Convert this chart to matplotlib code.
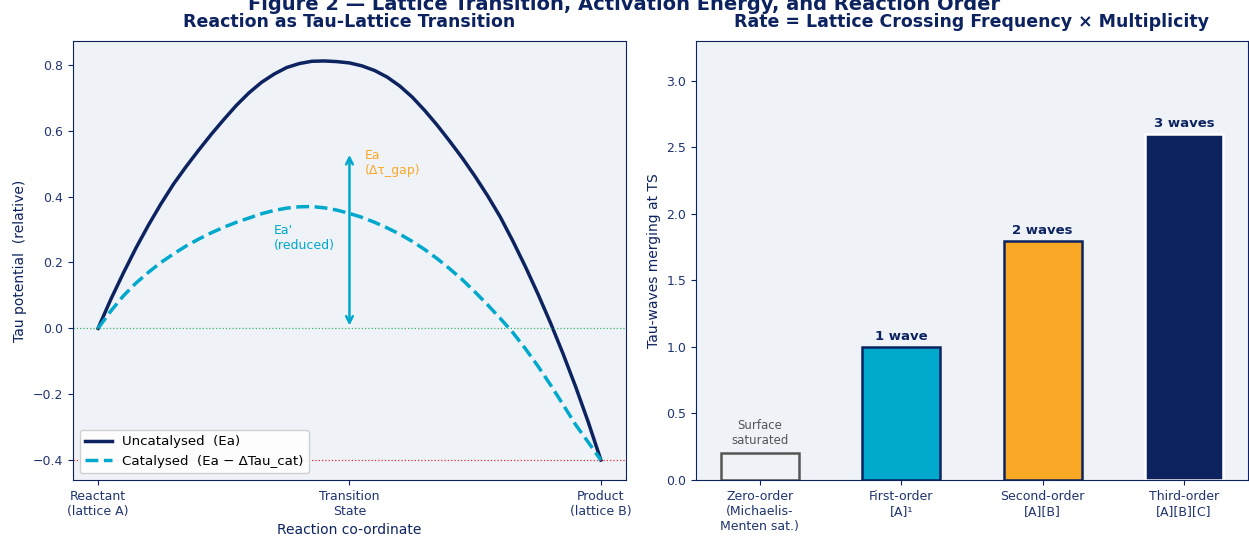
import numpy as np
import matplotlib
matplotlib.use("Agg")
import matplotlib.pyplot as plt

# ==================
# Data
# ==================
coord = [0.000, 0.025, 0.050, 0.075, 0.100, 0.125, 0.150, 0.175, 0.200, 0.225,
         0.250, 0.275, 0.300, 0.325, 0.350, 0.375, 0.400, 0.425, 0.450, 0.475,
         0.500, 0.525, 0.550, 0.575, 0.600, 0.625, 0.650, 0.675, 0.700, 0.725,
         0.750, 0.775, 0.800, 0.825, 0.850, 0.875, 0.900, 0.925, 0.950, 0.975, 1.000]
uncat = [0.000, 0.087, 0.167, 0.243, 0.313, 0.378, 0.438, 0.491, 0.541, 0.589,
         0.634, 0.677, 0.715, 0.747, 0.772, 0.792, 0.804, 0.811, 0.812, 0.810,
         0.806, 0.797, 0.783, 0.763, 0.736, 0.702, 0.661, 0.616, 0.567, 0.516,
         0.461, 0.402, 0.338, 0.265, 0.187, 0.104, 0.016, -0.078, -0.178, -0.285, -0.400]
cat = [0.000, 0.052, 0.098, 0.137, 0.170, 0.200, 0.226, 0.250, 0.271, 0.290,
       0.307, 0.322, 0.335, 0.348, 0.358, 0.365, 0.369, 0.370, 0.366, 0.359,
       0.349, 0.337, 0.322, 0.305, 0.286, 0.264, 0.239, 0.211, 0.180, 0.147,
       0.110, 0.071, 0.030, -0.013, -0.062, -0.115, -0.172, -0.232, -0.293, -0.346, -0.400]
coord_ticks = [0.0, 0.5, 1.0]
coord_labels = ["Reactant\n(lattice A)", "Transition\nState", "Product\n(lattice B)"]
arrow_top = 0.535

orders = ["Zero-order\n(Michaelis-\nMenten sat.)", "First-order\n[A]\u00b9",
          "Second-order\n[A][B]", "Third-order\n[A][B][C]"]
waves = [0.2, 1.0, 1.8, 2.6]
wave_labels = ["Surface\nsaturated", "1 wave", "2 waves", "3 waves"]

# ==================
# Style
# ==================
NAVY = "#0D2360"
CYAN = "#00A8CC"
ORANGE = "#F9A826"
BG = "#EFF3F8"
TXT = "#1F3470"

plt.rcParams['font.family'] = ['DejaVu Sans']
plt.rcParams['axes.edgecolor'] = NAVY
plt.rcParams['xtick.color'] = NAVY
plt.rcParams['ytick.color'] = NAVY
plt.rcParams['xtick.labelcolor'] = TXT
plt.rcParams['ytick.labelcolor'] = TXT

fig = plt.figure(figsize=(12.49, 5.43), dpi=100)
ax1 = fig.add_axes([0.0584, 0.116, 0.4428, 0.8085])
ax2 = fig.add_axes([0.5572, 0.116, 0.4420, 0.8085])

fig.suptitle("Figure 2 \u2014 Lattice Transition, Activation Energy, and Reaction Order",
             x=0.5, y=0.982, va='baseline', fontsize=14, fontweight='bold', color=NAVY)

# ==================
# Left: energy profile
# ==================
ax1.set_facecolor(BG)
ax1.plot(coord, uncat, color=NAVY, lw=2.5, label="Uncatalysed  (Ea)")
ax1.plot(coord, cat, color=CYAN, lw=2.5, ls='--', label="Catalysed  (Ea \u2212 \u0394Tau_cat)")
ax1.axhline(0, color="#3CB371", lw=0.9, ls=':')
ax1.axhline(-0.4, color="#E03030", lw=0.9, ls=':')
ax1.annotate("", xy=(0.5, arrow_top), xytext=(0.5, 0.0),
             arrowprops=dict(arrowstyle='<->', color=CYAN, lw=1.8, mutation_scale=12))
ax1.text(0.53, 0.545, "Ea\n(\u0394\u03c4_gap)", color=ORANGE, fontsize=9, va='top')
ax1.text(0.35, 0.318, "Ea'\n(reduced)", color=CYAN, fontsize=9, va='top')

ax1.set_xlim(-0.05, 1.05)
ax1.set_xticks(coord_ticks)
ax1.set_xticklabels(coord_labels, fontsize=9)
ax1.tick_params(labelsize=9)
ax1.set_xlabel("Reaction co-ordinate", fontsize=10, color=NAVY)
ax1.set_ylabel("Tau potential  (relative)", fontsize=10, color=NAVY)
ax1.set_title("Reaction as Tau-Lattice Transition", fontsize=12.5, fontweight='bold',
              color=NAVY, pad=10)
ax1.legend(loc='lower left', fontsize=9.6, facecolor='white', framealpha=0.9)

# ==================
# Right: reaction order bars
# ==================
ax2.set_facecolor(BG)
xpos = np.arange(len(orders))
faces = [BG, CYAN, ORANGE, NAVY]
edges = ["#555555", NAVY, NAVY, "white"]
bars = ax2.bar(xpos, waves, width=0.55, color=faces, edgecolor=edges, linewidth=1.8)
for i, (b, lab) in enumerate(zip(bars, wave_labels)):
    if i == 0:
        ax2.text(b.get_x() + b.get_width() / 2, b.get_height() + 0.05, lab,
                 ha='center', va='bottom', fontsize=8.5, color="#555555")
    else:
        ax2.text(b.get_x() + b.get_width() / 2, b.get_height() + 0.03, lab,
                 ha='center', va='bottom', fontsize=9.5, fontweight='bold', color=NAVY)

ax2.set_ylim(0, 3.3)
ax2.set_xticks(xpos)
ax2.set_xticklabels(orders, fontsize=9)
ax2.tick_params(labelsize=9)
ax2.set_ylabel("Tau-waves merging at TS", fontsize=10, color=NAVY)
ax2.set_title("Rate = Lattice Crossing Frequency \u00d7 Multiplicity", fontsize=12.5,
              fontweight='bold', color=NAVY, pad=10)

fig.savefig("out.png", dpi=100)
plt.close()
